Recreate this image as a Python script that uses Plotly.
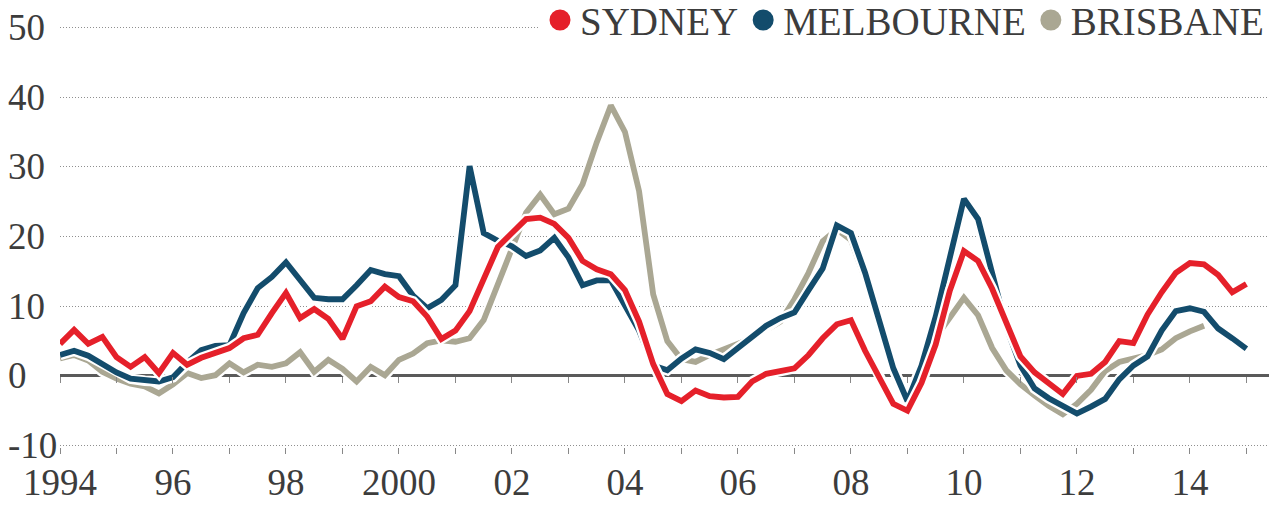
import plotly.graph_objects as go

# Quarterly observations, 1994 Q1 onward
start_year = 1994
n_quarters = 85
quarters = [start_year + 0.25 * i for i in range(n_quarters)]

sydney = [4.6, 6.6, 4.6, 5.6, 2.7, 1.3, 2.7, 0.4, 3.3, 1.6, 2.6, 3.4, 4.0, 5.4, 5.9, 9.0,
          11.9, 8.3, 9.6, 8.2, 5.3, 10.0, 10.7, 12.8, 11.3, 10.7, 8.5, 5.3, 6.5, 9.3, 14.0, 18.5,
          20.5, 22.5, 22.7, 21.8, 19.8, 16.5, 15.3, 14.6, 12.3, 7.8, 1.7, -2.6, -3.6, -2.1, -2.9, -3.1,
          -3.0, -0.8, 0.3, 0.7, 1.1, 3.0, 5.4, 7.4, 8.0, 3.6, 0.0, -4.0, -5.0, -1.0, 4.5, 12.2,
          17.9, 16.5, 12.5, 7.5, 2.8, 0.5, -1.0, -2.6, 0.0, 0.3, 2.0, 5.0, 4.7, 8.8, 12.0, 14.8,
          16.2, 16.0, 14.5, 12.0, 13.2]

melbourne = [3.0, 3.6, 2.9, 1.7, 0.5, -0.4, -0.7, -0.8, -0.2, 1.9, 3.7, 4.3, 4.4, 9.0, 12.6, 14.2,
             16.3, 13.8, 11.2, 11.0, 11.0, 13.0, 15.2, 14.6, 14.3, 11.5, 9.7, 10.9, 13.0, 30.1, 20.5, 19.4,
             18.6, 17.2, 18.0, 19.8, 17.0, 13.0, 13.7, 13.7, 10.2, 6.5, 1.5, 0.8, 2.5, 3.8, 3.3, 2.4,
             4.0, 5.5, 7.2, 8.3, 9.1, 12.3, 15.4, 21.6, 20.5, 14.8, 7.8, 1.1, -3.6, 1.5, 8.5, 17.0,
             25.4, 22.5, 15.0, 7.0, 1.5, -1.8, -3.2, -4.3, -5.4, -4.4, -3.3, -0.5, 1.5, 2.8, 6.5, 9.3,
             9.7, 9.2, 6.8, 5.4, 3.9]

brisbane = [2.5, 3.0, 2.2, 0.6, -0.4, -1.1, -1.5, -2.5, -1.2, 0.4, -0.3, 0.1, 1.8, 0.5, 1.6, 1.3,
            1.8, 3.4, 0.6, 2.3, 1.0, -0.8, 1.3, 0.1, 2.3, 3.2, 4.7, 5.1, 4.9, 5.4, 8.0, 13.0,
            18.5, 23.4, 26.0, 23.2, 24.0, 27.5, 33.5, 38.8, 35.0, 26.5, 11.7, 5.0, 2.4, 2.0, 3.0, 3.8,
            4.5, 5.4, 6.6, 7.8, 11.0, 14.8, 19.3, 21.0, 19.5, 14.0, 7.5, 1.0, -3.3, 1.5, 5.5, 8.5,
            11.2, 8.7, 4.0, 0.8, -1.2, -2.8, -4.3, -5.5, -4.0, -2.0, 0.7, 2.0, 2.5, 3.0, 3.8, 5.4,
            6.4, 7.2]

series_names = ["SYDNEY", "MELBOURNE", "BRISBANE"]
series_colors = ["#e5202a", "#134c6c", "#aaa793"]

year_ticks = list(range(1994, 2016))
year_labels = ["1994", "", "96", "", "98", "", "2000", "", "02", "", "04", "", "06", "", "08", "",
               "10", "", "12", "", "14", ""]
y_ticks = [-10, 0, 10, 20, 30, 40, 50]

FONT = "Liberation Serif"
TEXT = "#3c3c3c"

fig = go.Figure()

# draw order: Brisbane bottom, Melbourne, Sydney on top, each with a white halo
draw = [(brisbane, 2), (melbourne, 1), (sydney, 0)]
for vals, k in draw:
    xs = quarters[:len(vals)]
    fig.add_trace(go.Scatter(x=xs, y=vals, mode="lines",
                             line=dict(color="white", width=10.5),
                             showlegend=False, hoverinfo="skip"))
    fig.add_trace(go.Scatter(x=xs, y=vals, mode="lines", name=series_names[k],
                             line=dict(color=series_colors[k], width=5.8),
                             showlegend=False))

# legend entries (dots)
for k in range(3):
    fig.add_trace(go.Scatter(x=[None], y=[None], mode="markers", name=series_names[k],
                             marker=dict(color=series_colors[k], size=16,
                                         line=dict(color=series_colors[k], width=5)),
                             showlegend=True))

# ticks along the zero line
fig.add_trace(go.Scatter(x=[None], y=[None], xaxis="x2", showlegend=False))

for v in y_ticks:
    fig.add_annotation(x=0, xref="paper", xanchor="left", xshift=-54,
                       y=v, yref="y", yanchor="middle", text=str(v), showarrow=False,
                       font=dict(family=FONT, size=37, color=TEXT))

x_range = [1994, 2015.4]
y_range = [-10.2, 50.2]

fig.update_layout(
    width=1273, height=507,
    margin=dict(l=60, r=4, t=26, b=60, autoexpand=False),
    paper_bgcolor="white", plot_bgcolor="white",
    showlegend=True,
    legend=dict(orientation="h", x=1.0, xanchor="right", y=1.09, yanchor="top",
                bgcolor="white", font=dict(family=FONT, size=39, color=TEXT),
                itemsizing="trace", tracegroupgap=0, borderwidth=0),
    xaxis=dict(range=x_range, tickmode="array", tickvals=year_ticks, ticktext=year_labels,
               showgrid=False, zeroline=False, showline=False,
               ticks="outside", ticklen=6, tickwidth=1, tickcolor="#888",
               ticklabelstandoff=-3,
               tickfont=dict(family=FONT, size=37, color=TEXT)),
    xaxis2=dict(range=x_range, overlaying="x", anchor="free", position=10.2 / 60.4,
                tickmode="array", tickvals=year_ticks, showticklabels=False,
                showgrid=False, zeroline=False, showline=False,
                ticks="outside", ticklen=6, tickwidth=1, tickcolor="#888"),
    yaxis=dict(range=y_range, tickmode="array", tickvals=y_ticks, showticklabels=False,
               showgrid=True, gridcolor="#8f8f8f", gridwidth=1, griddash="1px,2px",
               zeroline=True, zerolinecolor="#5a5a5a", zerolinewidth=2.5,
               showline=False, ticks=""),
)

fig.write_html("out.html")
